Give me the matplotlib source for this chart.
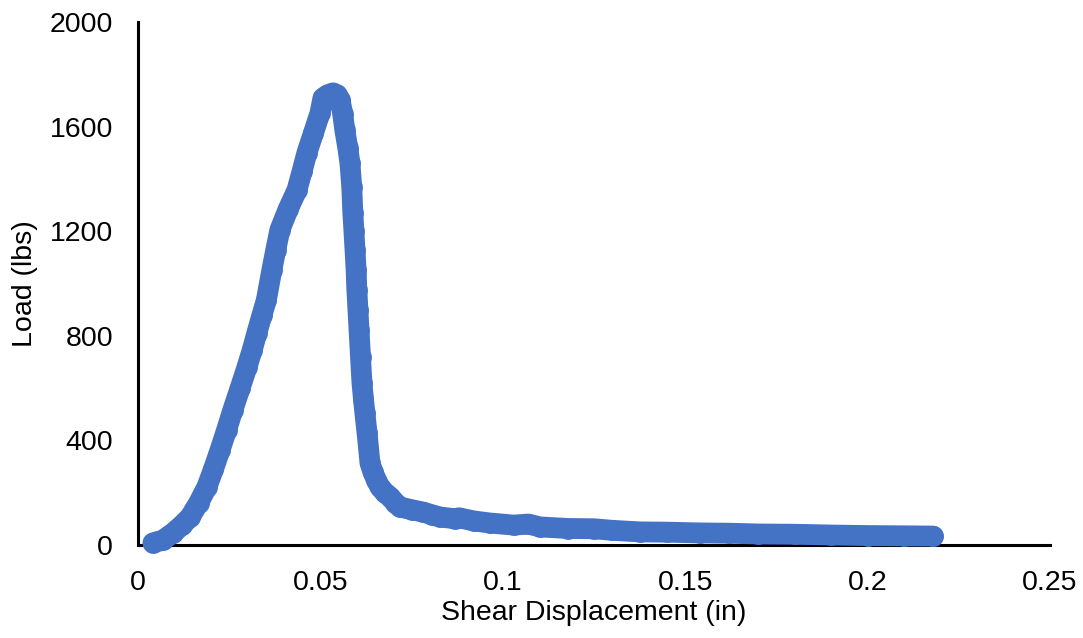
import numpy as np
import matplotlib
matplotlib.use('agg')
import matplotlib.pyplot as plt

plt.rcParams['font.family'] = ['Liberation Sans', 'DejaVu Sans']

# shear displacement (in) and load (lbs)
displacement = [0.0041, 0.0069, 0.0096, 0.0120, 0.0143, 0.0166, 0.0189, 0.0207,
                0.0225, 0.0243, 0.0260, 0.0280, 0.0299, 0.0313, 0.0326, 0.0340,
                0.0352, 0.0367, 0.0378, 0.0389, 0.0412, 0.0436, 0.0450, 0.0463,
                0.0481, 0.0499, 0.0507, 0.0520, 0.0535, 0.0546, 0.0554, 0.0561,
                0.0567, 0.0575, 0.0581, 0.0586, 0.0589, 0.0592, 0.0595, 0.0598,
                0.0600, 0.0603, 0.0606, 0.0610, 0.0614, 0.0618, 0.0622, 0.0628,
                0.0636, 0.0644, 0.0653, 0.0663, 0.0677, 0.0691, 0.0705, 0.0718,
                0.0750, 0.0781, 0.0805, 0.0828, 0.0870, 0.0880, 0.0920, 0.0965,
                0.1030, 0.1070, 0.1102, 0.1180, 0.1250, 0.1300, 0.1376, 0.1450,
                0.1540, 0.1620, 0.1700, 0.1800, 0.1900, 0.2000, 0.2100, 0.2180]
load = [8, 19, 46, 75, 107, 160, 222, 290,
        363, 440, 516, 600, 681, 745, 811, 880,
        937, 1052, 1130, 1205, 1285, 1358, 1430, 1499,
        1575, 1652, 1709, 1722, 1729, 1722, 1702, 1650,
        1587, 1520, 1461, 1370, 1270, 1200, 1128, 1050,
        975, 900, 822, 720, 620, 560, 505, 428,
        314, 279, 250, 222, 200, 184, 162, 145,
        135, 126, 116, 107, 100, 104, 92, 84,
        76, 80, 69, 63, 62, 56, 50, 49,
        46, 45, 42, 41, 38, 36, 35, 34]

x_ticks = [0, 0.05, 0.1, 0.15, 0.2, 0.25]
x_tick_labels = ['0', '0.05', '0.1', '0.15', '0.2', '0.25']
y_ticks = [0, 400, 800, 1200, 1600, 2000]

fig = plt.figure(figsize=(10.83, 6.38), dpi=100)
ax = fig.add_axes([0.1274, 0.1458, 0.8421, 0.8197])

ax.plot(displacement, load, color='#4472C4', linewidth=15, marker='o',
        markersize=15, markeredgewidth=0, solid_capstyle='round',
        solid_joinstyle='round', clip_on=False, zorder=5)

ax.set_xlim(0, 0.25)
ax.set_ylim(0, 2000)
ax.set_xticks(x_ticks, x_tick_labels)
ax.set_yticks(y_ticks)
ax.tick_params(length=0, labelsize=20.5, pad=18)

for side in ['top', 'right']:
    ax.spines[side].set_visible(False)
for side in ['left', 'bottom']:
    ax.spines[side].set_linewidth(2.2)
    ax.spines[side].set_color('black')

ax.set_xlabel('Shear Displacement (in)', fontsize=20.5, labelpad=3)
ax.set_ylabel('Load (lbs)', fontsize=20.5, labelpad=8)

fig.savefig('out.png', dpi=100)
